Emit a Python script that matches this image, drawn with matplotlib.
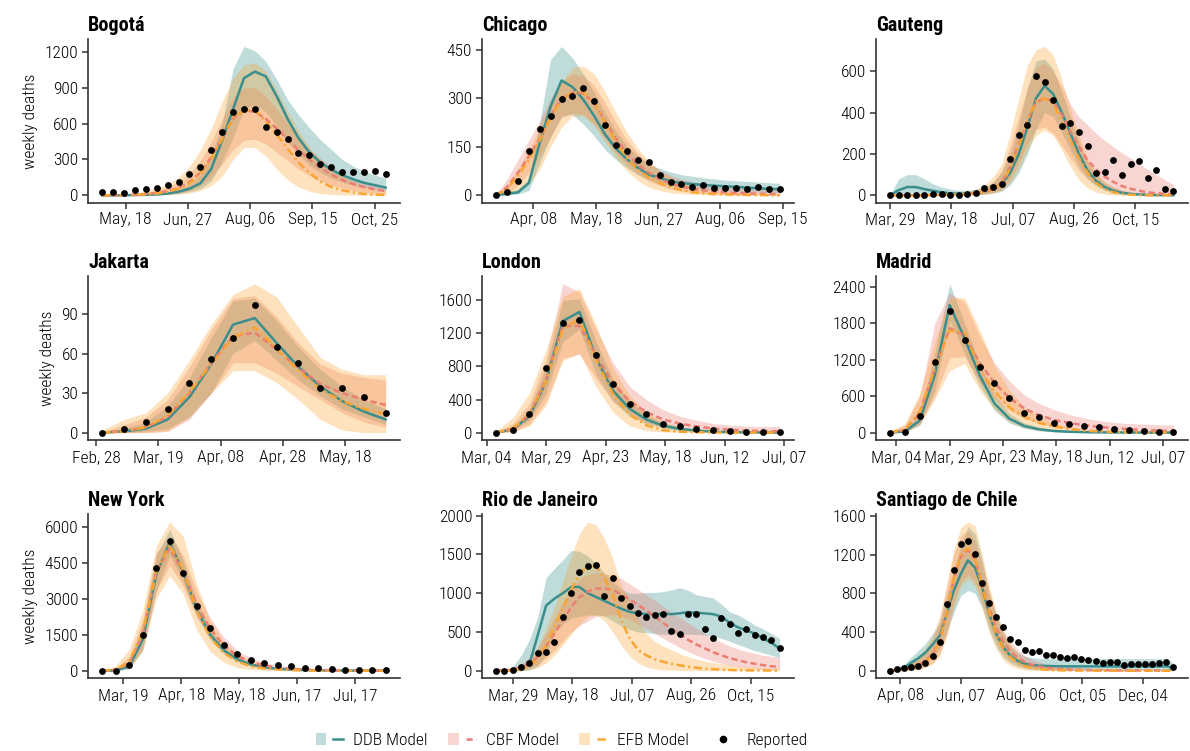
import numpy as np
import pandas as pd
import matplotlib
matplotlib.use("Agg")
import matplotlib.pyplot as plt
import matplotlib.dates as mdates
from matplotlib.patches import Patch
from matplotlib.lines import Line2D
from matplotlib.legend_handler import HandlerTuple
from matplotlib.ticker import MultipleLocator

plt.rcParams['font.family'] = ['Roboto Condensed', 'Liberation Sans Narrow', 'Roboto', 'DejaVu Sans']
plt.rcParams['lines.scale_dashes'] = False

# --- Bogota ---
BOG_START = "2020-05-03"
BOG_TICKS = ["2020-05-18", "2020-06-27", "2020-08-06", "2020-09-15", "2020-10-25"]
BOG_REP = [25, 30, 22, 45, 50, 62, 85, 110, 180, 240, 375, 530, 700, 720, 725, 570, 530, 470, 355, 335,
           265, 235, 195, 195, 195, 200, 180]
BOG_DDB = [0, 0, 1, 2, 4, 8, 15, 30, 55, 100, 220, 460, 720, 980, 1035, 995, 830, 640, 480, 360,
           275, 215, 170, 135, 105, 85, 65]
BOG_DDB_LO = [0, 0, 0, 1, 2, 4, 8, 15, 30, 55, 120, 280, 480, 720, 760, 700, 580, 450, 340, 255,
              190, 145, 110, 85, 65, 50, 40]
BOG_DDB_HI = [0, 0, 2, 4, 8, 15, 28, 50, 90, 170, 330, 600, 1060, 1245, 1210, 1120, 970, 800, 675, 565,
              465, 385, 300, 245, 200, 170, 145]
BOG_CBF = [0, 1, 2, 5, 10, 20, 35, 60, 110, 190, 320, 480, 640, 710, 700, 640, 560, 470, 380, 300,
           230, 175, 130, 95, 70, 50, 35]
BOG_CBF_LO = [0, 0, 0, 0, 2, 5, 10, 20, 40, 80, 150, 260, 380, 460, 470, 430, 360, 290, 220, 165,
              120, 85, 60, 40, 28, 18, 12]
BOG_CBF_HI = [2, 4, 8, 15, 25, 45, 70, 110, 180, 290, 450, 640, 820, 900, 900, 830, 720, 600, 490, 390,
              310, 240, 185, 140, 105, 80, 60]
BOG_EFB = [0, 1, 2, 4, 8, 15, 30, 55, 100, 180, 310, 470, 650, 710, 710, 620, 510, 390, 275, 190,
           115, 70, 42, 25, 12, 6, 3]
BOG_EFB_LO = [0, 0, 0, 0, 0, 2, 5, 10, 20, 40, 80, 160, 300, 400, 400, 330, 220, 130, 70, 35,
              15, 7, 3, 1, 0, 0, 0]
BOG_EFB_HI = [2, 5, 10, 20, 35, 60, 95, 150, 240, 380, 560, 780, 980, 1090, 1110, 1040, 880, 700, 540, 400,
              300, 220, 160, 115, 80, 55, 40]

# --- Chicago ---
CHI_START = "2020-03-15"
CHI_TICKS = ["2020-04-08", "2020-05-18", "2020-06-27", "2020-08-06", "2020-09-15"]
CHI_REP = [0, 9, 45, 138, 206, 244, 299, 308, 332, 292, 216, 157, 138, 110, 102, 62, 42, 35, 25, 31,
           22, 22, 22, 21, 25, 19, 19]
CHI_DDB = [0, 5, 9, 38, 162, 275, 355, 335, 296, 245, 188, 144, 112, 85, 64, 54, 43, 38, 35, 32,
           30, 28, 26, 24, 22, 20, 19]
CHI_DDB_LO = [0, 2, 4, 15, 100, 180, 245, 250, 220, 183, 141, 110, 85, 64, 48, 38, 30, 25, 21, 18,
              15, 13, 12, 11, 10, 9, 8]
CHI_DDB_HI = [2, 10, 20, 50, 225, 420, 460, 425, 375, 318, 255, 198, 152, 121, 97, 83, 72, 64, 59, 54,
              51, 47, 45, 43, 41, 39, 37]
CHI_CBF = [0, 25, 70, 120, 175, 245, 300, 318, 315, 285, 230, 175, 130, 95, 70, 50, 37, 27, 20, 15,
           11, 9, 7, 6, 5, 4, 4]
CHI_CBF_LO = [0, 5, 30, 70, 120, 180, 240, 255, 250, 220, 175, 130, 95, 65, 45, 30, 20, 13, 9, 6,
              4, 3, 2, 1, 1, 0, 0]
CHI_CBF_HI = [2, 50, 110, 170, 230, 300, 350, 375, 370, 340, 285, 225, 170, 130, 100, 78, 62, 50, 42, 36,
              31, 28, 25, 23, 21, 20, 19]
CHI_EFB = [0, 20, 60, 110, 170, 240, 295, 318, 320, 285, 225, 165, 115, 80, 55, 38, 25, 16, 10, 6,
           4, 3, 2, 1, 1, 0, 0]
CHI_EFB_LO = [0, 2, 10, 35, 80, 150, 210, 245, 245, 215, 165, 115, 75, 45, 25, 15, 8, 5, 3, 2,
              1, 1, 0, 0, 0, 0, 0]
CHI_EFB_HI = [5, 30, 80, 140, 210, 290, 350, 395, 400, 375, 320, 255, 195, 145, 105, 75, 55, 40, 30, 22,
              17, 13, 10, 8, 7, 6, 5]

# --- Gauteng ---
GAU_START = "2020-03-29"
GAU_TICKS = ["2020-03-29", "2020-05-18", "2020-07-07", "2020-08-26", "2020-10-15"]
GAU_REP = [0, 0, 0, 0, 0, 5, 7, 3, 3, 5, 12, 35, 40, 53, 178, 290, 342, 578, 550, 463,
           336, 352, 305, 240, 107, 112, 172, 97, 150, 168, 84, 124, 33, 20]
GAU_DDB = [0, 25, 40, 40, 30, 22, 15, 10, 8, 8, 10, 18, 30, 55, 110, 200, 330, 470, 530, 490,
           400, 300, 200, 120, 70, 40, 22, 12, 7, 4, 2, 1, 1, 0]
GAU_DDB_LO = [0, 5, 10, 12, 10, 6, 4, 3, 2, 2, 3, 5, 10, 20, 50, 110, 200, 320, 400, 380,
              300, 220, 140, 80, 45, 25, 12, 6, 3, 2, 1, 0, 0, 0]
GAU_DDB_HI = [0, 80, 100, 100, 80, 55, 40, 30, 25, 25, 28, 40, 65, 110, 200, 340, 520, 650, 660, 610,
              500, 380, 260, 160, 100, 60, 40, 25, 15, 10, 6, 4, 3, 2]
GAU_CBF = [0, 0, 0, 0, 1, 1, 2, 3, 4, 6, 10, 18, 32, 60, 140, 250, 360, 450, 470, 455,
           390, 310, 235, 170, 125, 90, 65, 45, 32, 22, 15, 10, 7, 5]
GAU_CBF_LO = [0, 0, 0, 0, 0, 0, 0, 1, 1, 2, 4, 8, 15, 30, 80, 160, 250, 320, 330, 300,
              240, 180, 120, 80, 50, 30, 18, 10, 5, 3, 2, 1, 0, 0]
GAU_CBF_HI = [1, 1, 2, 3, 4, 5, 7, 9, 12, 16, 22, 35, 60, 120, 240, 380, 520, 620, 640, 600,
              530, 440, 380, 340, 300, 265, 235, 205, 180, 155, 125, 100, 75, 52]
GAU_EFB = [0, 0, 0, 0, 1, 1, 2, 3, 4, 6, 10, 18, 30, 55, 130, 240, 360, 455, 470, 440,
           360, 270, 180, 110, 60, 30, 15, 7, 3, 1, 0, 0, 0, 0]
GAU_EFB_LO = [0, 0, 0, 0, 0, 0, 0, 0, 1, 1, 2, 5, 10, 25, 60, 130, 220, 290, 315, 290,
              220, 140, 75, 35, 15, 6, 2, 1, 0, 0, 0, 0, 0, 0]
GAU_EFB_HI = [2, 2, 3, 4, 5, 6, 8, 10, 14, 20, 30, 50, 90, 150, 300, 470, 630, 705, 720, 680,
              560, 420, 290, 180, 110, 65, 40, 22, 12, 7, 4, 2, 2, 2]

# --- Jakarta ---
JAK_START = "2020-03-01"
JAK_TICKS = ["2020-02-28", "2020-03-19", "2020-04-08", "2020-04-28", "2020-05-18"]
JAK_REP = [0, 3, 8, 18, 38, 56, 72, 97, 65, 53, 34, 34, 27, 15]
JAK_DDB = [0, 1, 3, 10, 27, 52, 82, 87, 68, 50, 35, 24, 16, 10]
JAK_DDB_LO = [0, 0, 1, 3, 12, 30, 60, 70, 55, 40, 28, 18, 12, 6]
JAK_DDB_HI = [0, 3, 8, 20, 42, 72, 100, 102, 85, 65, 48, 35, 25, 18]
JAK_CBF = [0, 1, 4, 12, 30, 53, 73, 76, 63, 49, 37, 30, 25, 21]
JAK_CBF_LO = [0, 0, 0, 1, 10, 30, 53, 53, 45, 35, 25, 15, 8, 4]
JAK_CBF_HI = [1, 6, 12, 25, 50, 78, 102, 104, 88, 68, 52, 45, 42, 40]
JAK_EFB = [0, 1, 4, 13, 31, 52, 72, 80, 64, 47, 33, 24, 18, 14]
JAK_EFB_LO = [0, 0, 0, 1, 12, 30, 47, 47, 38, 25, 10, 2, 0, 0]
JAK_EFB_HI = [2, 10, 15, 30, 55, 82, 105, 113, 103, 80, 57, 48, 44, 44]

# --- London ---
LON_START = "2020-03-08"
LON_TICKS = ["2020-03-04", "2020-03-29", "2020-04-23", "2020-05-18", "2020-06-12", "2020-07-07"]
LON_REP = [0, 36, 230, 778, 1326, 1359, 943, 585, 343, 222, 105, 77, 48, 28, 24, 8, 6, 6]
LON_DDB = [0, 40, 200, 620, 1350, 1460, 900, 510, 290, 160, 85, 45, 25, 12, 6, 3, 2, 1]
LON_DDB_LO = [0, 25, 150, 480, 1100, 1250, 700, 380, 200, 110, 55, 28, 14, 7, 3, 2, 1, 0]
LON_DDB_HI = [0, 60, 280, 800, 1600, 1620, 1100, 650, 380, 220, 120, 70, 40, 22, 12, 7, 4, 3]
LON_CBF = [0, 45, 220, 650, 1290, 1290, 930, 600, 380, 250, 160, 110, 75, 50, 35, 25, 18, 15]
LON_CBF_LO = [0, 10, 100, 380, 900, 950, 650, 380, 220, 120, 70, 40, 25, 15, 10, 7, 5, 5]
LON_CBF_HI = [5, 110, 350, 900, 1800, 1700, 1250, 850, 560, 400, 280, 200, 150, 110, 90, 80, 75, 75]
LON_EFB = [0, 50, 230, 620, 1250, 1380, 880, 470, 220, 90, 30, 12, 5, 3, 2, 1, 1, 1]
LON_EFB_LO = [0, 10, 80, 330, 870, 960, 550, 250, 80, 25, 8, 3, 1, 0, 0, 0, 0, 0]
LON_EFB_HI = [20, 180, 480, 1000, 1650, 1740, 1300, 780, 450, 250, 130, 70, 40, 25, 15, 10, 7, 5]

# --- Madrid ---
MAD_START = "2020-03-01"
MAD_TICKS = ["2020-03-04", "2020-03-29", "2020-04-23", "2020-05-18", "2020-06-12", "2020-07-07"]
MAD_REP = [0, 16, 280, 1170, 2010, 1527, 1077, 813, 566, 330, 258, 159, 137, 110, 88, 66, 49, 27, 11, 5]
MAD_DDB = [0, 20, 200, 950, 2100, 1550, 950, 480, 230, 110, 55, 28, 15, 8, 5, 3, 2, 1, 1, 1]
MAD_DDB_LO = [0, 8, 120, 700, 1850, 1300, 780, 370, 160, 70, 30, 14, 7, 4, 2, 1, 1, 0, 0, 0]
MAD_DDB_HI = [0, 40, 320, 1300, 2450, 1800, 1150, 620, 320, 160, 85, 45, 25, 15, 10, 6, 4, 3, 2, 2]
MAD_CBF = [0, 40, 330, 1050, 1720, 1600, 1150, 820, 570, 400, 285, 210, 160, 125, 95, 75, 55, 42, 32, 27]
MAD_CBF_LO = [0, 10, 150, 600, 1230, 1250, 830, 560, 360, 230, 150, 100, 65, 45, 30, 20, 12, 8, 5, 3]
MAD_CBF_HI = [10, 120, 600, 1800, 2300, 2150, 1600, 1150, 850, 620, 480, 380, 300, 240, 200, 170, 150, 140, 130, 125]
MAD_EFB = [0, 50, 350, 1050, 1680, 1650, 1050, 680, 420, 260, 160, 100, 60, 35, 20, 12, 7, 4, 3, 2]
MAD_EFB_LO = [0, 10, 130, 550, 1020, 1140, 700, 380, 180, 80, 35, 15, 6, 3, 1, 0, 0, 0, 0, 0]
MAD_EFB_HI = [20, 150, 650, 1500, 2220, 2220, 1700, 1100, 700, 420, 260, 160, 100, 60, 40, 25, 15, 10, 7, 5]

# --- New York ---
NYC_START = "2020-03-08"
NYC_TICKS = ["2020-03-19", "2020-04-18", "2020-05-18", "2020-06-17", "2020-07-17"]
NYC_REP = [0, 0, 223, 1504, 4274, 5415, 4053, 2702, 1797, 1072, 682, 460, 334, 250, 195, 125, 111, 70, 50, 50, 40, 30]
NYC_DDB = [0, 10, 180, 1300, 4000, 5350, 4100, 2550, 1500, 850, 470, 260, 145, 80, 45, 25, 15, 9, 5, 3, 2, 1]
NYC_DDB_LO = [0, 0, 80, 850, 3300, 4800, 3700, 2250, 1300, 700, 380, 200, 105, 55, 30, 16, 9, 5, 3, 2, 1, 0]
NYC_DDB_HI = [0, 30, 350, 1900, 4800, 5900, 4600, 2900, 1750, 1000, 580, 330, 190, 110, 65, 40, 25, 15, 10, 7, 5, 3]
NYC_CBF = [0, 30, 300, 1500, 4100, 5100, 4100, 2750, 1750, 1050, 620, 370, 220, 130, 80, 50, 30, 20, 12, 8, 5, 3]
NYC_CBF_LO = [0, 5, 120, 950, 3300, 4400, 3500, 2250, 1400, 780, 430, 230, 120, 60, 30, 15, 7, 3, 2, 1, 0, 0]
NYC_CBF_HI = [5, 80, 600, 2100, 4900, 5600, 4800, 3300, 2200, 1400, 850, 530, 340, 220, 150, 100, 70, 50, 38, 30, 25, 20]
NYC_EFB = [0, 50, 380, 1600, 4100, 5250, 4200, 2500, 1400, 750, 380, 190, 95, 50, 25, 12, 6, 3, 2, 1, 1, 0]
NYC_EFB_LO = [0, 5, 100, 800, 3000, 3950, 3200, 1700, 800, 350, 130, 45, 15, 5, 2, 1, 0, 0, 0, 0, 0, 0]
NYC_EFB_HI = [20, 200, 900, 2500, 5200, 6200, 5600, 3600, 2100, 1200, 700, 400, 230, 130, 75, 45, 28, 17, 11, 7, 5, 3]

# --- Rio de Janeiro ---
RIO_START = "2020-03-15"
RIO_TICKS = ["2020-03-29", "2020-05-18", "2020-07-07", "2020-08-26", "2020-10-15"]
RIO_REP = [0, 0, 10, 43, 103, 228, 237, 370, 688, 998, 1277, 1346, 1359, 959, 1200, 942, 839, 744, 697, 718,
           731, 508, 477, 727, 731, 538, 417, 684, 598, 490, 533, 456, 439, 400, 288]
RIO_DDB = [0, 0, 10, 30, 90, 460, 840, 930, 1000, 1080, 1080, 1000, 950, 900, 850, 800, 760, 740, 730, 730,
           735, 730, 740, 755, 750, 740, 730, 700, 620, 560, 520, 480, 420, 360, 290]
RIO_DDB_LO = [0, 0, 0, 0, 10, 60, 200, 500, 600, 680, 700, 720, 720, 700, 640, 580, 530, 500, 490, 480,
              470, 470, 470, 470, 470, 460, 450, 420, 380, 340, 300, 260, 230, 200, 170]
RIO_DDB_HI = [0, 0, 50, 200, 400, 700, 1200, 1320, 1430, 1550, 1540, 1480, 1380, 1260, 1150, 1050, 1000, 1000, 1010, 1010,
              1020, 1040, 1070, 1040, 980, 960, 940, 860, 760, 720, 660, 590, 540, 480, 420]
RIO_CBF = [0, 5, 15, 40, 90, 180, 320, 480, 650, 820, 950, 1020, 1060, 1060, 1040, 990, 920, 850, 780, 700,
           620, 540, 470, 400, 340, 290, 240, 200, 165, 135, 110, 90, 72, 58, 48]
RIO_CBF_LO = [0, 0, 5, 15, 35, 80, 160, 260, 380, 500, 580, 640, 700, 720, 720, 700, 660, 600, 540, 480,
              420, 360, 300, 250, 200, 160, 125, 95, 72, 55, 42, 32, 25, 20, 15]
RIO_CBF_HI = [0, 10, 40, 90, 170, 300, 480, 680, 880, 1050, 1180, 1240, 1260, 1250, 1230, 1190, 1120, 1050, 980, 910,
              830, 760, 690, 620, 550, 480, 420, 370, 320, 280, 250, 225, 200, 185, 170]
RIO_EFB = [0, 0, 5, 20, 60, 150, 320, 560, 800, 1050, 1250, 1350, 1340, 1200, 980, 650, 420, 270, 200, 150,
           115, 90, 70, 52, 38, 28, 20, 14, 10, 7, 5, 4, 3, 2, 2]
RIO_EFB_LO = [0, 0, 0, 0, 10, 40, 100, 200, 330, 470, 600, 700, 720, 640, 500, 330, 190, 100, 50, 25,
              12, 6, 3, 1, 0, 0, 0, 0, 0, 0, 0, 0, 0, 0, 0]
RIO_EFB_HI = [0, 5, 20, 60, 130, 300, 550, 820, 1150, 1480, 1770, 1920, 1880, 1700, 1450, 1100, 900, 650, 480, 380,
              320, 270, 220, 180, 150, 125, 105, 90, 75, 62, 52, 45, 38, 32, 28]

# --- Santiago de Chile ---
SCL_START = "2020-03-29"
SCL_TICKS = ["2020-04-08", "2020-06-07", "2020-08-06", "2020-10-05", "2020-12-04"]
SCL_REP = [0, 15, 31, 38, 49, 76, 153, 299, 691, 1038, 1309, 1340, 1208, 910, 698, 559, 448, 330, 302, 215,
           194, 205, 160, 167, 142, 128, 146, 125, 111, 104, 83, 94, 90, 63, 65, 70, 70, 70, 76, 90, 35]
SCL_DDB = [0, 10, 30, 83, 130, 188, 270, 361, 587, 830, 1003, 1142, 1066, 865, 587, 378, 240, 153, 101, 73,
           59, 53, 49, 47, 46, 45, 45, 45, 45, 45, 45, 45, 45, 45, 45, 45, 45, 45, 45, 45, 30]
SCL_DDB_LO = [0, 0, 5, 30, 60, 100, 150, 220, 400, 600, 780, 830, 800, 650, 420, 250, 140, 80, 45, 25,
              15, 10, 8, 6, 5, 5, 5, 5, 5, 5, 5, 5, 5, 5, 5, 5, 5, 5, 5, 5, 3]
SCL_DDB_HI = [0, 30, 70, 140, 210, 280, 380, 500, 760, 1050, 1280, 1490, 1420, 1150, 800, 560, 380, 260, 190, 150,
              135, 128, 125, 125, 125, 125, 125, 125, 125, 125, 125, 125, 125, 125, 125, 125, 125, 125, 125, 125, 80]
SCL_CBF = [0, 5, 15, 35, 60, 100, 170, 310, 600, 950, 1180, 1250, 1150, 900, 640, 440, 300, 200, 135, 90,
           62, 44, 32, 24, 18, 14, 11, 9, 7, 6, 5, 4, 3, 3, 2, 2, 2, 2, 1, 1, 1]
SCL_CBF_LO = [0, 0, 2, 8, 20, 40, 80, 170, 380, 700, 920, 1000, 920, 700, 480, 300, 180, 110, 65, 40,
              24, 15, 10, 6, 4, 3, 2, 1, 1, 1, 0, 0, 0, 0, 0, 0, 0, 0, 0, 0, 0]
SCL_CBF_HI = [2, 15, 40, 80, 130, 200, 320, 520, 850, 1200, 1400, 1450, 1350, 1100, 820, 590, 420, 300, 220, 160,
              120, 92, 72, 58, 47, 40, 34, 30, 27, 24, 22, 20, 19, 18, 17, 16, 15, 15, 14, 14, 14]
SCL_EFB = [0, 3, 10, 25, 50, 90, 160, 300, 600, 950, 1200, 1270, 1150, 880, 600, 380, 230, 140, 85, 50,
           30, 18, 11, 7, 4, 3, 2, 1, 1, 1, 0, 0, 0, 0, 0, 0, 0, 0, 0, 0, 0]
SCL_EFB_LO = [0, 0, 1, 5, 15, 35, 70, 150, 350, 650, 870, 950, 880, 650, 400, 220, 110, 50, 20, 8,
              3, 1, 0, 0, 0, 0, 0, 0, 0, 0, 0, 0, 0, 0, 0, 0, 0, 0, 0, 0, 0]
SCL_EFB_HI = [5, 20, 50, 90, 150, 230, 360, 560, 900, 1250, 1480, 1540, 1500, 1200, 880, 600, 400, 260, 170, 110,
              70, 45, 30, 20, 14, 10, 7, 5, 4, 3, 2, 2, 2, 2, 2, 2, 2, 2, 2, 2, 2]

TEAL = '#3a8f8c'
SALMON = '#ea7e72'
ORANGE = '#f9a532'
MODEL_COLORS = [TEAL, SALMON, ORANGE]
MODEL_STYLES = ['-', (0, (4.5, 2.5)), (0, (6, 2.5, 1.5, 2.5))]
BAND_ALPHA = 0.32

panels = [
    ("Bogotá", BOG_START, BOG_TICKS, BOG_REP, [(BOG_DDB, BOG_DDB_LO, BOG_DDB_HI), (BOG_CBF, BOG_CBF_LO, BOG_CBF_HI), (BOG_EFB, BOG_EFB_LO, BOG_EFB_HI)], 300),
    ("Chicago", CHI_START, CHI_TICKS, CHI_REP, [(CHI_DDB, CHI_DDB_LO, CHI_DDB_HI), (CHI_CBF, CHI_CBF_LO, CHI_CBF_HI), (CHI_EFB, CHI_EFB_LO, CHI_EFB_HI)], 150),
    ("Gauteng", GAU_START, GAU_TICKS, GAU_REP, [(GAU_DDB, GAU_DDB_LO, GAU_DDB_HI), (GAU_CBF, GAU_CBF_LO, GAU_CBF_HI), (GAU_EFB, GAU_EFB_LO, GAU_EFB_HI)], 200),
    ("Jakarta", JAK_START, JAK_TICKS, JAK_REP, [(JAK_DDB, JAK_DDB_LO, JAK_DDB_HI), (JAK_CBF, JAK_CBF_LO, JAK_CBF_HI), (JAK_EFB, JAK_EFB_LO, JAK_EFB_HI)], 30),
    ("London", LON_START, LON_TICKS, LON_REP, [(LON_DDB, LON_DDB_LO, LON_DDB_HI), (LON_CBF, LON_CBF_LO, LON_CBF_HI), (LON_EFB, LON_EFB_LO, LON_EFB_HI)], 400),
    ("Madrid", MAD_START, MAD_TICKS, MAD_REP, [(MAD_DDB, MAD_DDB_LO, MAD_DDB_HI), (MAD_CBF, MAD_CBF_LO, MAD_CBF_HI), (MAD_EFB, MAD_EFB_LO, MAD_EFB_HI)], 600),
    ("New York", NYC_START, NYC_TICKS, NYC_REP, [(NYC_DDB, NYC_DDB_LO, NYC_DDB_HI), (NYC_CBF, NYC_CBF_LO, NYC_CBF_HI), (NYC_EFB, NYC_EFB_LO, NYC_EFB_HI)], 1500),
    ("Rio de Janeiro", RIO_START, RIO_TICKS, RIO_REP, [(RIO_DDB, RIO_DDB_LO, RIO_DDB_HI), (RIO_CBF, RIO_CBF_LO, RIO_CBF_HI), (RIO_EFB, RIO_EFB_LO, RIO_EFB_HI)], 500),
    ("Santiago de Chile", SCL_START, SCL_TICKS, SCL_REP, [(SCL_DDB, SCL_DDB_LO, SCL_DDB_HI), (SCL_CBF, SCL_CBF_LO, SCL_CBF_HI), (SCL_EFB, SCL_EFB_LO, SCL_EFB_HI)], 400),
]


def draw_city(ax, title, start, ticks, rep, models, ystep):
    x = pd.date_range(start, periods=len(rep), freq='7D')
    for (mid, lo, hi), col in zip(models, MODEL_COLORS):
        ax.fill_between(x, lo, hi, color=col, alpha=BAND_ALPHA, lw=0)
    for (mid, lo, hi), col, ls in zip(models, MODEL_COLORS, MODEL_STYLES):
        ax.plot(x, mid, color=col, ls=ls, lw=1.8)
    ax.scatter(x, rep, s=24, color='black', zorder=5, lw=0)

    # same 5% margins that autoscale would give
    pad = (x[-1] - x[0]) * 0.05
    ax.set_xlim(x[0] - pad, x[-1] + pad)
    ymax = max(max(hi) for _, _, hi in models)
    ymax = max(ymax, max(rep))
    ax.set_ylim(-0.05 * ymax, 1.05 * ymax)

    ax.set_xticks(pd.to_datetime(ticks))
    ax.xaxis.set_major_formatter(mdates.DateFormatter('%b, %d'))
    ax.yaxis.set_major_locator(MultipleLocator(ystep))
    ax.set_title(title, loc='left', fontweight='bold', fontsize=14.5, pad=6)
    for s in ['top', 'right']:
        ax.spines[s].set_visible(False)
    for s in ['left', 'bottom']:
        ax.spines[s].set_color('#333333')
        ax.spines[s].set_linewidth(1.2)
    ax.tick_params(axis='both', labelsize=12.5, color='#333333', length=4, width=1.1, pad=3)
    for lab in ax.get_xticklabels() + ax.get_yticklabels():
        lab.set_fontweight('light')


fig = plt.figure(figsize=(11.9, 7.51), dpi=100)
lefts = [0.074, 0.405, 0.736]
bottoms = [0.730, 0.414, 0.097]
for i, (title, start, ticks, rep, models, ystep) in enumerate(panels):
    r, c = divmod(i, 3)
    ax = fig.add_axes([lefts[c], bottoms[r], 0.262, 0.218])
    draw_city(ax, title, start, ticks, rep, models, ystep)
    if c == 0:
        ax.set_ylabel('weekly deaths', fontsize=12.5, fontweight='light', labelpad=5)

labels = ['DDB Model', 'CBF Model', 'EFB Model', 'Reported']
handles = []
for col, ls in zip(MODEL_COLORS, MODEL_STYLES):
    handles.append((Patch(facecolor=col, alpha=BAND_ALPHA, lw=0), Line2D([], [], color=col, ls=ls, lw=1.8)))
handles.append(Line2D([], [], marker='o', color='black', ls='none', markersize=4.5))
leg = fig.legend(handles, labels, loc='center', bbox_to_anchor=(0.472, 0.014), ncol=4, frameon=False,
                 handler_map={tuple: HandlerTuple(ndivide=None)}, fontsize=12.5,
                 columnspacing=1.2, handlelength=1.6, handletextpad=0.55)
for t in leg.get_texts():
    t.set_fontweight('light')

fig.savefig('out.png', dpi=100)
